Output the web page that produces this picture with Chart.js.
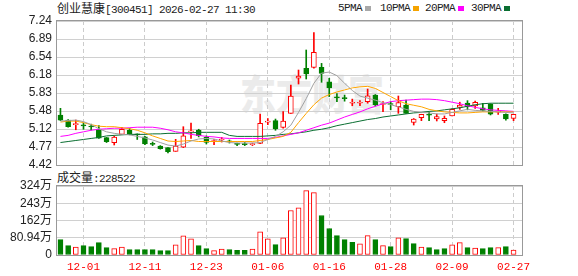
<!DOCTYPE html>
<html>
<head>
<meta charset="utf-8">
<script src="https://cdn.jsdelivr.net/npm/chart.js@4.4.1/dist/chart.umd.min.js"></script>
<style>
  html, body { margin:0; padding:0; background:#fff; }
  #wrap { position:relative; width:578px; height:276px; overflow:hidden; }
  canvas { position:absolute; left:0; top:0; z-index:1; }
  .t { position:absolute; white-space:nowrap; color:#222; line-height:12px; }
  .mono { font-family:"Liberation Mono", monospace; font-size:11px; letter-spacing:-0.6px; }
  .cjk { font-family:"Noto Sans CJK SC"; font-size:12px; }
  .sq { position:absolute; width:6px; height:5px; top:6px; }
  .wm { position:absolute; left:240px; top:74px; z-index:0; font-family:"Noto Sans CJK SC"; font-weight:900;
        font-size:36px; line-height:36px; color:#ebebeb; transform:scaleY(1.15); }
</style>
</head>
<body>
<div id="wrap">
  <div class="wm">东方财富</div>
  <div class="t" style="left:57px;top:2px;"><span class="cjk">创业慧康</span><span class="mono">[300451] 2026-02-27 11:30</span></div>
  <div class="t mono" style="left:338px;top:2px;">5PMA</div><div class="sq" style="left:365px;background:#a8a8a8"></div>
  <div class="t mono" style="left:380px;top:2px;">10PMA</div><div class="sq" style="left:413px;background:#f5a300"></div>
  <div class="t mono" style="left:425px;top:2px;">20PMA</div><div class="sq" style="left:458px;background:#ff00ff"></div>
  <div class="t mono" style="left:471px;top:2px;">30PMA</div><div class="sq" style="left:504px;background:#0a6e31"></div>
  <div class="t" style="left:57px;top:171px;"><span class="cjk">成交量</span><span class="mono">:228522</span></div>
  <canvas id="price" width="578" height="276"></canvas>
  <canvas id="vol" width="578" height="276"></canvas>
</div>
<script>
const dates = ['11-26','11-27','11-28','12-01','12-02','12-03','12-04','12-05','12-08','12-09',
  '12-10','12-11','12-12','12-15','12-16','12-17','12-18','12-19','12-22','12-23',
  '12-24','12-25','12-26','12-29','12-30','12-31','01-05','01-06','01-07','01-08',
  '01-09','01-12','01-13','01-14','01-15','01-16','01-19','01-20','01-21','01-22',
  '01-23','01-26','01-27','01-28','01-29','01-30','02-02','02-03','02-04','02-05',
  '02-06','02-09','02-10','02-11','02-12','02-13','02-24','02-25','02-26','02-27'];
const labelIdx = [3,11,19,27,35,43,51,59];

const open = [5.40,5.30,5.21,5.195,5.175,5.125,4.955,4.857,5.021,5.099,
  5.02,4.974,4.835,4.792,4.759,4.688,4.77,5.07,5.105,4.962,
  4.88,4.91,4.885,4.835,4.83,4.82,4.845,5.26,5.29,5.158,
  5.432,6.118,6.314,6.333,6.333,6.05,5.745,5.73,5.63,5.63,
  5.66,5.791,5.605,5.615,5.562,5.595,5.252,5.346,5.405,5.32,
  5.288,5.38,5.55,5.634,5.575,5.542,5.615,5.455,5.413,5.334];
const high = [5.53,5.31,5.30,5.24,5.22,5.19,4.96,4.99,5.158,5.14,
  5.03,4.98,4.87,4.80,4.76,4.923,5.17,5.24,5.12,4.99,
  4.92,4.96,4.91,4.85,4.86,4.85,5.419,5.33,5.32,5.464,
  5.987,6.28,6.672,7.011,6.41,6.118,5.82,5.79,5.71,5.68,
  5.908,5.80,5.66,5.66,5.771,5.693,5.33,5.414,5.45,5.419,
  5.38,5.522,5.65,5.68,5.67,5.628,5.62,5.53,5.42,5.413];
const low = [5.29,5.16,5.11,5.12,5.105,4.94,4.86,4.812,5.02,5.01,
  4.92,4.82,4.80,4.73,4.655,4.688,4.76,4.94,4.97,4.83,
  4.82,4.87,4.85,4.80,4.80,4.80,4.84,5.21,5.10,5.14,
  5.43,6.006,6.104,6.314,6.04,5.76,5.66,5.67,5.58,5.58,
  5.63,5.575,5.466,5.50,5.432,5.43,5.203,5.288,5.29,5.282,
  5.248,5.38,5.51,5.50,5.53,5.48,5.40,5.41,5.30,5.288];
const close = [5.30,5.17,5.22,5.185,5.165,4.943,4.876,4.968,5.119,5.034,
  5.01,4.831,4.825,4.739,4.68,4.792,4.99,5.08,4.994,4.864,
  4.89,4.925,4.875,4.825,4.82,4.83,5.237,5.27,5.125,5.282,
  5.771,6.163,6.202,6.627,6.215,5.93,5.735,5.72,5.635,5.645,
  5.777,5.60,5.615,5.605,5.64,5.432,5.321,5.414,5.395,5.366,
  5.335,5.511,5.595,5.562,5.648,5.491,5.413,5.47,5.321,5.413];
// volume in 万
const volume = [72.3,44,37.7,44,39.3,58.2,34.6,29.9,37.7,25.1,
  25.1,25.1,25.1,20.4,20.4,47.2,89.6,75.4,44,29.9,
  20.4,28.3,25.1,22,22,28.3,108.4,75.4,48.7,80.2,
  209,221.6,301.8,292.3,185.5,124.2,91.2,72.3,59.7,51.9,
  91.2,72.3,44,39.3,80.2,77,53.4,37.7,34.6,25.1,
  29.9,47.2,58.2,34.6,33,29.9,34.6,34.6,39.3,22.85];

const ma5 = [5.28,5.29,5.30,5.27,5.21,5.13,5.07,5.04,5.02,5.01,
  4.98,4.95,4.91,4.86,4.81,4.79,4.83,4.89,4.93,4.94,
  4.93,4.89,4.86,4.85,4.85,4.85,4.86,4.92,4.98,5.07,
  5.20,5.45,5.72,6.02,6.22,6.24,6.17,6.02,5.88,5.77,
  5.73,5.69,5.64,5.60,5.56,5.51,5.47,5.45,5.44,5.42,
  5.42,5.45,5.48,5.51,5.49,5.48,5.47,5.46,5.45,5.44];
const ma10 = [5.26,5.28,5.28,5.25,5.21,5.18,5.17,5.17,5.15,5.13,
  5.10,5.05,4.99,4.94,4.89,4.88,4.89,4.90,4.88,4.88,
  4.88,4.88,4.88,4.88,4.88,4.88,4.90,4.92,4.95,4.98,
  5.06,5.25,5.43,5.60,5.73,5.80,5.85,5.89,5.93,5.95,
  5.96,5.92,5.84,5.76,5.68,5.62,5.59,5.56,5.51,5.48,
  5.46,5.45,5.44,5.44,5.45,5.46,5.46,5.46,5.46,5.46];
const ma20 = [4.98,5.00,5.04,5.07,5.10,5.12,5.13,5.14,5.14,5.15,
  5.16,5.16,5.16,5.14,5.11,5.07,5.05,5.02,5.00,4.98,
  4.97,4.95,4.94,4.94,4.94,4.94,4.94,4.94,4.96,4.99,
  5.02,5.05,5.10,5.15,5.20,5.24,5.30,5.36,5.41,5.46,
  5.52,5.57,5.62,5.66,5.68,5.69,5.70,5.71,5.71,5.70,
  5.68,5.65,5.62,5.58,5.55,5.52,5.50,5.49,5.48,5.47];
const ma30 = [4.86,4.88,4.90,4.92,4.94,4.96,4.99,5.00,5.01,5.02,
  5.02,5.02,5.03,5.03,5.04,5.04,5.05,5.05,5.06,5.06,
  5.06,5.06,5.00,4.98,4.98,4.98,4.98,4.99,5.00,5.02,
  5.03,5.05,5.07,5.10,5.12,5.15,5.19,5.22,5.25,5.28,
  5.31,5.33,5.36,5.38,5.40,5.42,5.44,5.45,5.47,5.48,
  5.50,5.52,5.54,5.57,5.60,5.62,5.63,5.63,5.63,5.63];

const priceTicks = [4.42,4.7725,5.125,5.4775,5.83,6.1825,6.535,6.8875,7.24];
const priceTickLabels = ['4.42','4.77','5.12','5.48','5.83','6.18','6.54','6.89','7.24'];
const volTicks = [0,80.94,161.88,242.82,323.76];
const volTickLabels = ['0','80.94万','162万','243万','324万'];

const RED = '#ff0000', GREEN = '#008000';
const xs = dates.map((d,i) => i);
const up = xs.map(i => close[i] >= open[i]);
const volUp = xs.map(i => i ? close[i] >= close[i-1] : close[i] >= open[i]);

const frame = {
  id:'frame',
  afterDraw(chart){
    const { ctx, chartArea:a } = chart;
    ctx.save();
    ctx.strokeStyle = '#999';
    ctx.lineWidth = 1;
    ctx.strokeRect(a.left - 0.5, a.top - 0.5, a.right - a.left + 1, a.bottom - a.top + 1);
    ctx.restore();
  }
};

function xScale(showLabels){
  return {
    type:'linear', min:-0.45, max:60.1, offset:false,
    afterBuildTicks: ax => { ax.ticks = labelIdx.map(v => ({ value:v })); },
    afterFit: ax => { ax.height = showLabels ? 21 : 0; },
    grid:{ color:'#cccccc', drawTicks:false, offset:false },
    border:{ display:false, dash:[4,3] },
    ticks:{ display:showLabels, autoSkip:false, maxRotation:0, padding:5, color:RED,
            font:{ family:'"Liberation Mono", monospace', size:11 },
            callback: v => dates[v] }
  };
}

function yScale(ticks, labels, min, max){
  return {
    min, max,
    afterBuildTicks: ax => { ax.ticks = ticks.map(v => ({ value:v })); },
    afterFit: ax => { ax.width = 57; },
    grid:{ color:'#d0d0d0', drawTicks:false },
    border:{ display:false },
    ticks:{ autoSkip:false, padding:5, color:'#222', font:{ family:'"Liberation Sans", "Noto Sans CJK SC"', size:12 },
            callback: (v, i) => labels[i] }
  };
}

const common = {
  responsive:false, animation:false, events:[],
  plugins:{ legend:{ display:false }, tooltip:{ enabled:false } }
};

function maLine(arr, color){
  return { type:'line', data: xs.map(i => ({ x:i, y:arr[i] })), borderColor:color, borderWidth:1,
           pointRadius:0, tension:0, order:0 };
}

/* ========= PRICE ========= */
new Chart(document.getElementById('price'), {
  type:'bar',
  data:{
    datasets:[
      maLine(ma5, '#a0a0a0'),
      maLine(ma10, '#ffa500'),
      maLine(ma20, '#ff00ff'),
      maLine(ma30, '#0a6e31'),
      {
        type:'bar',
        data: xs.map(i => ({ x:i, y:[open[i], close[i]] })),
        backgroundColor: xs.map(i => up[i] ? '#ffffff' : GREEN),
        borderColor: xs.map(i => up[i] ? RED : GREEN),
        borderWidth:1, borderSkipped:false, barThickness:5, grouped:false, minBarLength:1, order:1
      },
      {
        type:'bar',
        data: xs.map(i => ({ x:i, y:[low[i], high[i]] })),
        backgroundColor: xs.map(i => up[i] ? RED : GREEN),
        barThickness:1, grouped:false, order:2
      }
    ]
  },
  options:{
    ...common,
    layout:{ padding:{ left:0, right:56, top:21, bottom:111 } },
    scales:{ x: xScale(false), y: yScale(priceTicks, priceTickLabels, 4.42, 7.24) }
  },
  plugins:[frame]
});

/* ========= VOLUME ========= */
new Chart(document.getElementById('vol'), {
  type:'bar',
  data:{
    datasets:[{
      data: xs.map(i => ({ x:i, y:volume[i] })),
      backgroundColor: xs.map(i => volUp[i] ? '#ffffff' : GREEN),
      borderColor: xs.map(i => volUp[i] ? RED : GREEN),
      borderWidth:1, borderSkipped:false, barThickness:5, grouped:false
    }]
  },
  options:{
    ...common,
    layout:{ padding:{ left:0, right:56, top:186, bottom:0 } },
    scales:{ x: xScale(true), y: yScale(volTicks, volTickLabels, 0, 323.76) }
  },
  plugins:[frame]
});
</script>
</body>
</html>
